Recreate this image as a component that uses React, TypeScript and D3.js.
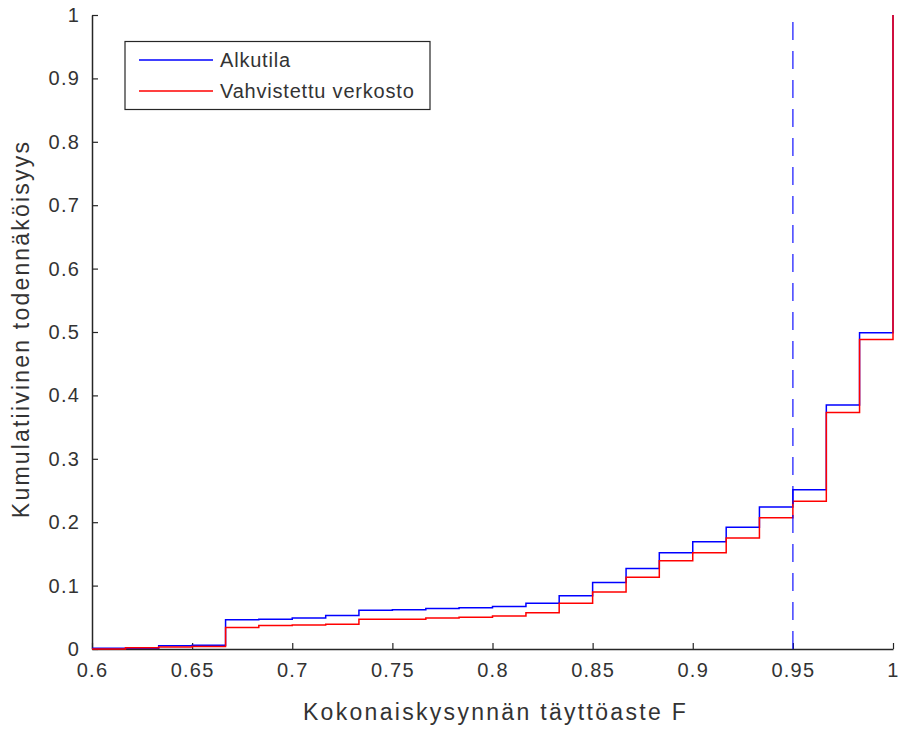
import React, { useEffect, useRef } from 'react'
import * as d3 from 'd3'

// step edges of the empirical CDF (x = fill rate F)
const fEdges = [
	0.6, 0.6167, 0.6333, 0.65, 0.6667, 0.6833, 0.7, 0.7167, 0.7333, 0.75, 0.7667, 0.7833, 0.8,
	0.8167, 0.8333, 0.85, 0.8667, 0.8833, 0.9, 0.9167, 0.9333, 0.95, 0.9667, 0.9833, 1.0,
]
const alkutila = [
	0.001, 0.001, 0.005, 0.006, 0.046, 0.047, 0.049, 0.053, 0.061, 0.062, 0.064, 0.065, 0.067,
	0.072, 0.084, 0.105, 0.127, 0.152, 0.169, 0.192, 0.224, 0.251, 0.385, 0.499, 1.0,
]
const vahvistettu = [
	0.0, 0.002, 0.003, 0.004, 0.034, 0.037, 0.038, 0.039, 0.047, 0.047, 0.049, 0.05, 0.052,
	0.057, 0.072, 0.09, 0.113, 0.139, 0.152, 0.175, 0.207, 0.233, 0.373, 0.488, 1.0,
]
const xTicks = [0.6, 0.65, 0.7, 0.75, 0.8, 0.85, 0.9, 0.95, 1]
const yTicks = [0, 0.1, 0.2, 0.3, 0.4, 0.5, 0.6, 0.7, 0.8, 0.9, 1]
const targetF = 0.95
const seriesNames = ['Alkutila', 'Vahvistettu verkosto']
const seriesColors = ['#0000ff', '#ff0000']

export default function App() {
	const ref = useRef<SVGSVGElement>(null)

	useEffect(() => {
		const svg = d3.select(ref.current)
		svg.selectAll('*').remove()

		const left = 92
		const right = 893
		const top = 15
		const bottom = 649
		const axisColor = '#262626'
		const textColor = '#333'
		const font = '"Liberation Sans", Arial, sans-serif'

		const x = d3.scaleLinear().domain([0.6, 1]).range([left, right])
		const y = d3.scaleLinear().domain([0, 1]).range([bottom, top])

		const stairs = d3
			.line<number>()
			.x((_, i) => x(fEdges[i]))
			.y((d) => y(d))
			.curve(d3.curveStepAfter)

		const g = svg.append('g')

		// axes (under the data, like matlab)
		const xAxis = g
			.append('g')
			.attr('transform', `translate(0,${bottom})`)
			.call(
				d3
					.axisBottom(x)
					.tickValues(xTicks)
					.tickSize(-6)
					.tickSizeOuter(0)
					.tickPadding(14)
					.tickFormat((d) => `${+d}`)
			)
		const yAxis = g
			.append('g')
			.attr('transform', `translate(${left},0)`)
			.call(
				d3
					.axisLeft(y)
					.tickValues(yTicks)
					.tickSize(-6)
					.tickSizeOuter(0)
					.tickPadding(12)
					.tickFormat((d) => `${+d}`)
			)
		;[xAxis, yAxis].forEach((a) => {
			a.select('.domain').attr('stroke', axisColor).attr('stroke-width', 1.5)
			a.selectAll('.tick line').attr('stroke', axisColor).attr('stroke-width', 1.2)
			a.selectAll('.tick text')
				.attr('fill', textColor)
				.style('font-family', font)
				.style('font-size', '20px')
				.style('letter-spacing', '1.2px')
		})

		// series
		;[alkutila, vahvistettu].forEach((vals, i) => {
			g.append('path')
				.attr('d', stairs(vals))
				.attr('fill', 'none')
				.attr('stroke', seriesColors[i])
				.attr('stroke-width', 1.5)
		})

		// target line
		g.append('line')
			.attr('x1', x(targetF))
			.attr('x2', x(targetF))
			.attr('y1', y(0))
			.attr('y2', y(1))
			.attr('stroke', '#0000ff')
			.attr('stroke-opacity', 0.75)
			.attr('stroke-width', 1.5)
			.attr('stroke-dasharray', '18,11')

		// axis labels
		svg.append('text')
			.attr('x', (left + right) / 2 + 3)
			.attr('y', 720)
			.attr('text-anchor', 'middle')
			.attr('fill', textColor)
			.style('font-family', font)
			.style('font-size', '23px')
			.style('letter-spacing', '2.3px')
			.text('Kokonaiskysynnän täyttöaste F')

		svg.append('text')
			.attr('transform', `translate(29,${(top + bottom) / 2 - 3}) rotate(-90)`)
			.attr('text-anchor', 'middle')
			.attr('fill', textColor)
			.style('font-family', font)
			.style('font-size', '23px')
			.style('letter-spacing', '2.2px')
			.text('Kumulatiivinen todennäköisyys')

		// legend
		const legend = svg.append('g')
		legend
			.append('rect')
			.attr('x', 125)
			.attr('y', 41.5)
			.attr('width', 305)
			.attr('height', 68)
			.attr('fill', '#fff')
			.attr('stroke', axisColor)
			.attr('stroke-width', 1.2)
		seriesNames.forEach((name, i) => {
			const ly = 60 + i * 31
			legend
				.append('line')
				.attr('x1', 139)
				.attr('x2', 213)
				.attr('y1', ly)
				.attr('y2', ly)
				.attr('stroke', seriesColors[i])
				.attr('stroke-width', 1.5)
			legend
				.append('text')
				.attr('x', 220)
				.attr('y', ly + 7)
				.attr('fill', textColor)
				.style('font-family', font)
				.style('font-size', '20px')
				.style('letter-spacing', '0.8px')
				.text(name)
		})
	}, [])

	return (
		<svg
			ref={ref}
			width={900}
			height={730}
			style={{ position: 'absolute', left: 0, top: 0, background: '#fff' }}
		/>
	)
}
